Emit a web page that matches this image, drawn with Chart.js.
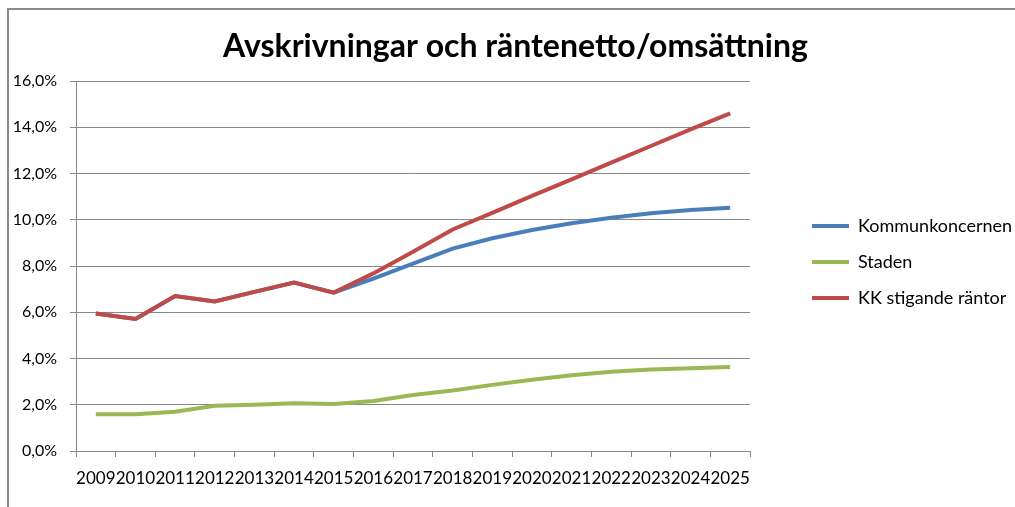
<!DOCTYPE html>
<html>
<head>
<meta charset="utf-8">
<script src="https://cdn.jsdelivr.net/npm/chart.js@4"></script>
<style>
  html, body { margin: 0; padding: 0; background: #ffffff; overflow: hidden; }
  #frame { position: absolute; left: 7px; top: 8px; width: 1100px; height: 600px; border-left: 2px solid #8a8a8a; border-top: 2px solid #8a8a8a; z-index: 0; }
  #wrap { position: absolute; left: 0; top: 0; width: 1015px; height: 507px; z-index: 1; }
</style>
</head>
<body>
<div id="frame"></div>
<div id="wrap"><canvas id="c" width="1015" height="507"></canvas></div>
<script>
const years = ['2009','2010','2011','2012','2013','2014','2015','2016','2017','2018','2019','2020','2021','2022','2023','2024','2025'];
const kommunkoncernen = [5.95, 5.71, 6.70, 6.47, 6.88, 7.28, 6.85, 7.45, 8.10, 8.75, 9.20, 9.56, 9.85, 10.09, 10.28, 10.42, 10.52];
const staden = [1.59, 1.59, 1.70, 1.96, 2.00, 2.06, 2.03, 2.16, 2.42, 2.62, 2.86, 3.08, 3.28, 3.43, 3.52, 3.58, 3.63];
const kkStigandeRantor = [5.95, 5.71, 6.70, 6.47, 6.88, 7.28, 6.85, 7.68, 8.62, 9.58, 10.30, 11.03, 11.75, 12.47, 13.19, 13.91, 14.60];
const seriesNames = ['Kommunkoncernen', 'Staden', 'KK stigande räntor'];
const titleText = 'Avskrivningar och räntenetto/omsättning';

const GRID = '#888888';
const FONT = 'Lato, "Open Sans", sans-serif';

const legendPlacer = {
  id: 'legendPlacer',
  beforeLayout(chart) {
    const lg = chart.legend;
    if (lg && !lg._patched) {
      const f = lg.fit;
      lg.fit = function () { f.call(this); if (!this.isHorizontal()) this.width = 265; };
      lg._patched = true;
    }
  },
  afterLayout(chart) {
    const lg = chart.legend;
    const p = lg.options.labels.padding;
    const dx = 812 - (lg.left + p);
    lg.left += dx; lg.right += dx;
    lg.top -= 4; lg.bottom -= 4;
    const t = chart.titleBlock;
    if (t) { t.left += 8; t.right += 8; }
  }
};

new Chart(document.getElementById('c'), {
  type: 'line',
  data: {
    labels: years,
    datasets: [
      { label: seriesNames[0], data: kommunkoncernen, borderColor: '#4A7EBB', backgroundColor: '#4A7EBB', borderWidth: 4, pointRadius: 0, tension: 0, order: 1 },
      { label: seriesNames[1], data: staden, borderColor: '#98B954', backgroundColor: '#98B954', borderWidth: 4, pointRadius: 0, tension: 0, order: 2 },
      { label: seriesNames[2], data: kkStigandeRantor, borderColor: '#BE4B48', backgroundColor: '#BE4B48', borderWidth: 4, pointRadius: 0, tension: 0, order: 0 }
    ]
  },
  options: {
    responsive: false,
    animation: false,
    events: [],
    layout: { padding: { left: 0, right: 0, top: 0, bottom: 0 } },
    plugins: {
      title: {
        display: true,
        text: titleText,
        color: '#000000',
        font: { family: FONT, size: 32, weight: 'bold', lineHeight: 1.2 },
        padding: { top: 27, bottom: 15.6 }
      },
      legend: {
        display: true,
        position: 'right',
        align: 'center',
        fullSize: false,
        labels: {
          usePointStyle: true,
          pointStyle: 'line',
          pointStyleWidth: 37,
          padding: 18,
          color: '#000000',
          font: { family: FONT, size: 18 },
          sort: (a, b) => a.datasetIndex - b.datasetIndex
        }
      },
      tooltip: { enabled: false }
    },
    scales: {
      x: {
        offset: true,
        grid: { offset: true, drawOnChartArea: false, drawTicks: true, tickLength: 6, color: GRID },
        border: { display: true, color: GRID, width: 1 },
        ticks: { autoSkip: false, maxRotation: 0, minRotation: 0, padding: 11, color: '#000000', font: { family: FONT, size: 17 } },
        afterFit(scale) { scale.height = 56; }
      },
      y: {
        min: 0, max: 16,
        ticks: { stepSize: 2, padding: 13, color: '#000000', font: { family: FONT, size: 16 },
          callback: (v) => v.toFixed(1).replace('.', ',') + '%' },
        grid: { color: GRID, tickLength: 6, drawTicks: true },
        border: { display: true, color: GRID, width: 1 },
        afterFit(scale) { scale.width = 76; }
      }
    }
  },
  plugins: [legendPlacer]
});
</script>
</body>
</html>
